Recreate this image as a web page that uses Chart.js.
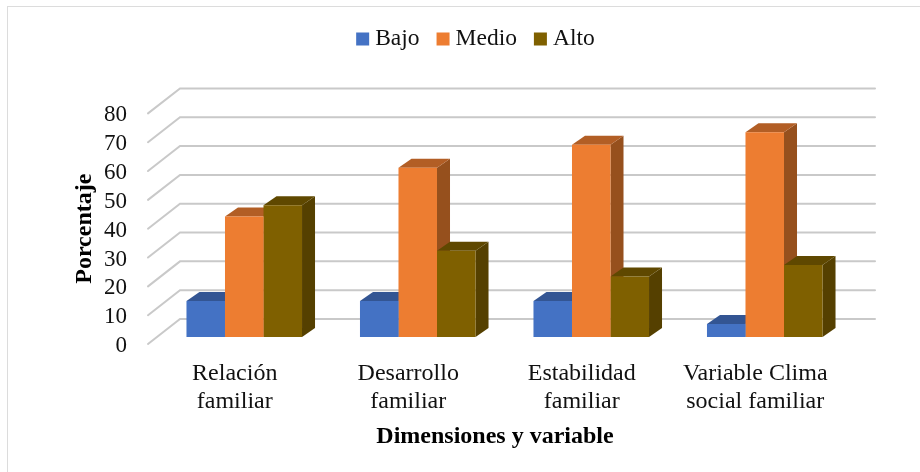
<!DOCTYPE html>
<html>
<head>
<meta charset="utf-8">
<script src="https://cdn.jsdelivr.net/npm/chart.js@4"></script>
<style>
  body { margin: 0; background: #fff; overflow: hidden; }
  #frame { position: absolute; left: 7px; top: 6px; width: 920px; height: 472px; border: 1px solid #dcdcdc; }
  #grafico { position: absolute; left: 0; top: 0; }
</style>
</head>
<body>
<div id="frame"></div>
<canvas id="grafico" width="920" height="472"></canvas>
<script>
var categorias = [['Relación', 'familiar'], ['Desarrollo', 'familiar'], ['Estabilidad', 'familiar'], ['Variable Clima', 'social familiar']];
var bajo = [12.5, 12.5, 12.5, 4.5];
var medio = [41.8, 58.7, 66.7, 71];
var alto = [45.7, 29.9, 21, 25];
var marcasY = [0, 10, 20, 30, 40, 50, 60, 70, 80];

var serif = '"Liberation Serif", "Times New Roman", serif';

// colores de las caras de cada barra: frente, arriba, lado
var caras = [
    ['#4472C4', '#335593', '#2A4778'],
    ['#ED7D31', '#B25E25', '#96501D'],
    ['#7F6000', '#5F4800', '#554000']
];

// la pared del fondo y el desplazamiento de las barras
var pared = { dx: 32, dy: -25, right: 875 };
var barras = { dx: 9.5, dy: -7, fondoX: 13, fondoY: -9 };

var pared3d = {
    id: 'pared3d',
    beforeInit: function (chart) {
        var legend = chart.legend;
        var fit = legend.fit;
        var draw = legend.draw;
        legend.fit = function () {
            fit.call(this);
            this.height += 53.65;
        };
        // la leyenda va centrada en 475, no en el area del grafico
        legend.draw = function () {
            chart.ctx.save();
            chart.ctx.translate(25, 1);
            draw.call(this);
            chart.ctx.restore();
        };
    },
    beforeDatasetsDraw: function (chart) {
        var ctx = chart.ctx;
        var y = chart.scales.y;
        var left = chart.chartArea.left;

        ctx.save();
        ctx.strokeStyle = '#c9c9c9';
        ctx.lineWidth = 2;
        ctx.lineCap = 'round';
        y.ticks.forEach(function (t) {
            var py = y.getPixelForValue(t.value);
            ctx.beginPath();
            ctx.moveTo(left, py);
            ctx.lineTo(left + pared.dx, py + pared.dy);
            ctx.lineTo(pared.right, py + pared.dy);
            ctx.stroke();
        });
        ctx.restore();

        // todas las caras primero, los frentes los pinta Chart.js encima
        ctx.save();
        ctx.translate(barras.dx, barras.dy);
        chart.data.datasets.forEach(function (ds, i) {
            chart.getDatasetMeta(i).data.forEach(function (bar) {
                var l = bar.x - bar.width / 2;
                var r = bar.x + bar.width / 2;
                var t = bar.y;
                var b = bar.base;

                ctx.fillStyle = caras[i][2];
                ctx.beginPath();
                ctx.moveTo(r, t);
                ctx.lineTo(r + barras.fondoX, t + barras.fondoY);
                ctx.lineTo(r + barras.fondoX, b + barras.fondoY);
                ctx.lineTo(r, b);
                ctx.closePath();
                ctx.fill();

                ctx.fillStyle = caras[i][1];
                ctx.beginPath();
                ctx.moveTo(l, t);
                ctx.lineTo(l + barras.fondoX, t + barras.fondoY);
                ctx.lineTo(r + barras.fondoX, t + barras.fondoY);
                ctx.lineTo(r, t);
                ctx.closePath();
                ctx.fill();
            });
        });
    },
    afterDatasetsDraw: function (chart) {
        chart.ctx.restore();
    }
};

new Chart(document.getElementById('grafico').getContext('2d'), {
    type: 'bar',
    data: {
        labels: categorias,
        datasets: [
            { label: 'Bajo', data: bajo, backgroundColor: caras[0][0], clip: false },
            { label: 'Medio', data: medio, backgroundColor: caras[1][0], clip: false },
            { label: 'Alto', data: alto, backgroundColor: caras[2][0], clip: false }
        ]
    },
    options: {
        responsive: false,
        animation: false,
        categoryPercentage: 0.666,
        barPercentage: 1,
        layout: { padding: { top: 3.5, left: 64.6, right: 78, bottom: 18.6 } },
        plugins: {
            tooltip: { enabled: false },
            legend: {
                position: 'top',
                labels: {
                    // caja minima con borde grueso: cuadro de 13px pegado al texto
                    boxWidth: 1.5,
                    boxHeight: 1.5,
                    padding: 22.75,
                    color: '#111',
                    font: { family: serif, size: 23.5 },
                    generateLabels: function (chart) {
                        return Chart.defaults.plugins.legend.labels.generateLabels(chart).map(function (item) {
                            item.lineWidth = 11.5;
                            item.strokeStyle = item.fillStyle;
                            return item;
                        });
                    }
                }
            }
        },
        scales: {
            x: {
                grid: { display: false, drawTicks: false },
                border: { display: false },
                afterFit: function (s) { s.height = 109.4; },
                ticks: {
                    autoSkip: false,
                    maxRotation: 0,
                    padding: 15,
                    color: '#111',
                    font: { family: serif, size: 24, lineHeight: 1.2 }
                },
                title: {
                    display: true,
                    text: 'Dimensiones y variable',
                    color: '#000',
                    padding: { top: 4, bottom: 2 },
                    font: { family: serif, size: 24, weight: 'bold' }
                }
            },
            y: {
                min: 0,
                max: 80,
                afterBuildTicks: function (s) {
                    s.ticks = marcasY.map(function (v) { return { value: v }; });
                },
                afterFit: function (s) { s.width = 83.4; },
                grid: { display: false, drawTicks: false },
                border: { display: false },
                ticks: {
                    autoSkip: false,
                    padding: 21,
                    labelOffset: 2,
                    color: '#111',
                    font: { family: serif, size: 23 }
                },
                title: {
                    display: true,
                    text: 'Porcentaje',
                    color: '#000',
                    padding: { top: 6, bottom: 4 },
                    font: { family: serif, size: 24, weight: 'bold' }
                }
            }
        }
    },
    plugins: [pared3d]
});
</script>
</body>
</html>
